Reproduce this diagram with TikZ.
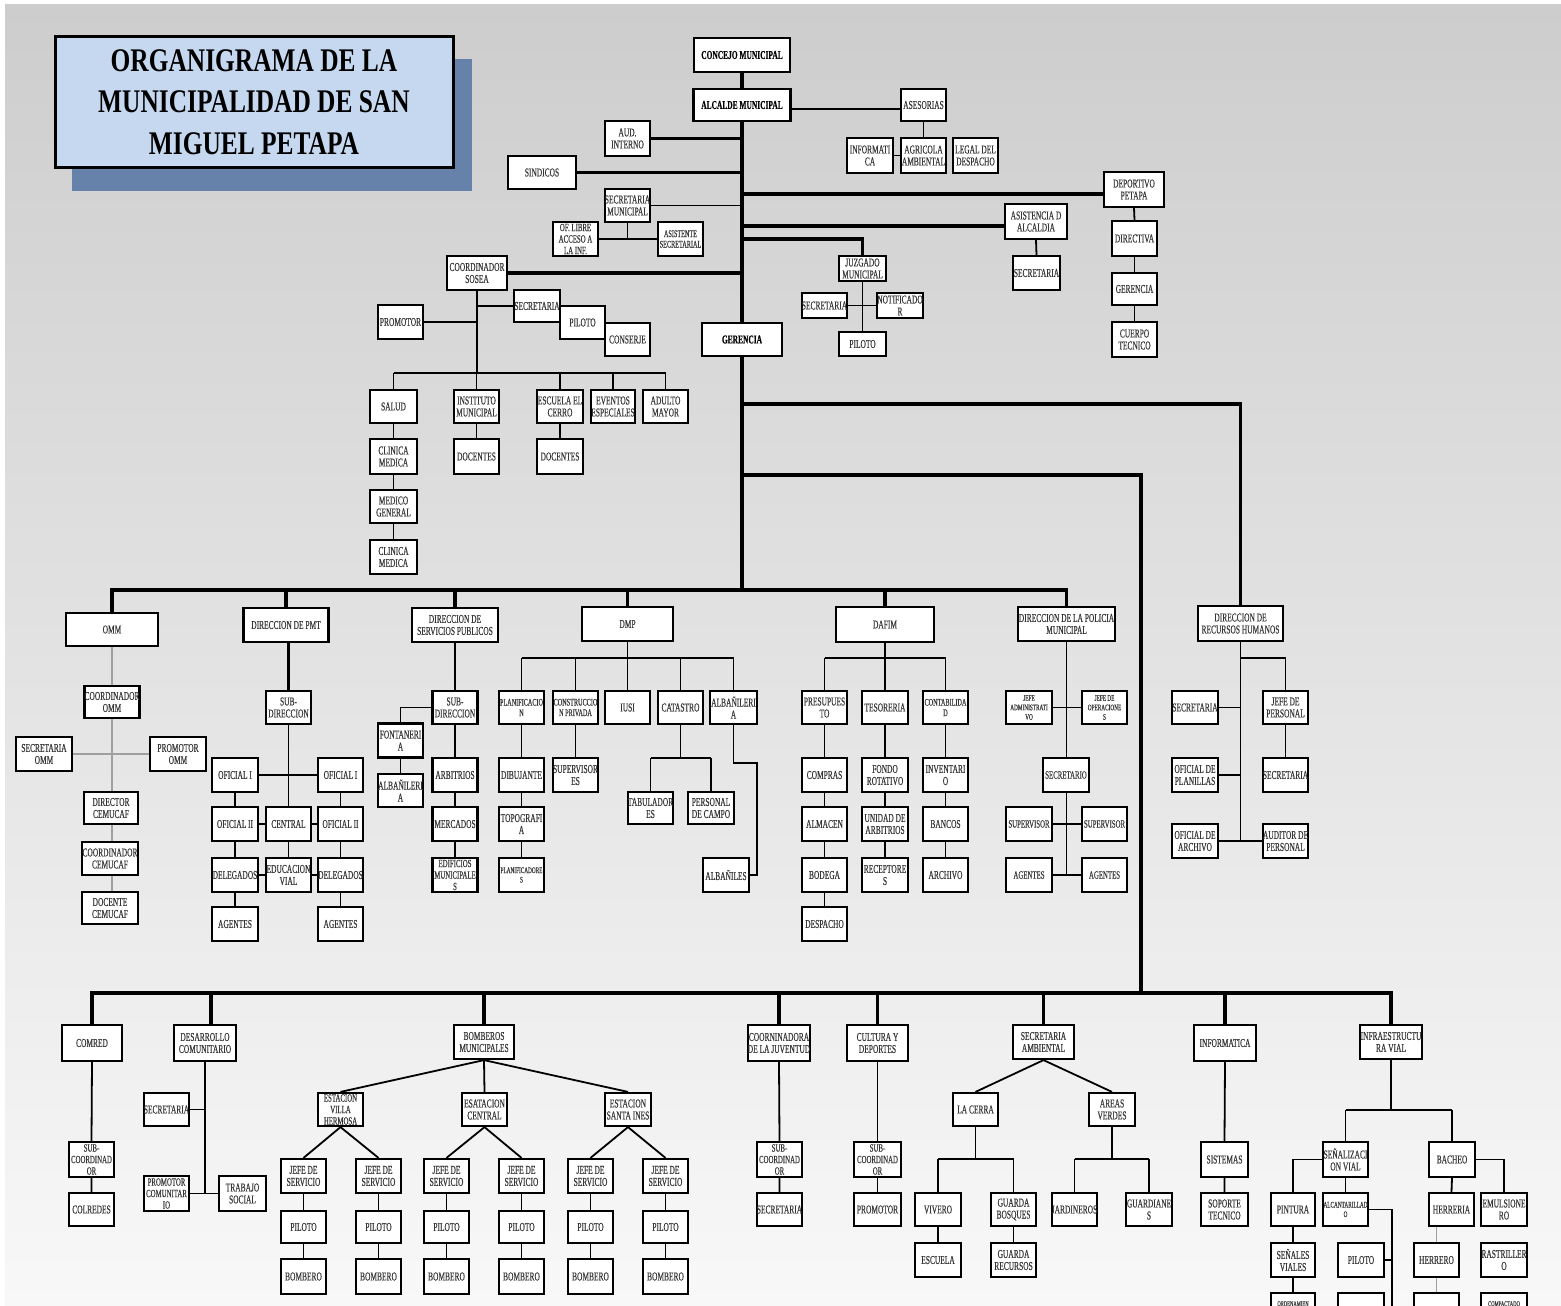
\documentclass[tikz,border=0pt]{standalone}
\usepackage{fontspec}
\setmainfont[FakeStretch=0.62,FakeBold=0.35]{Liberation Serif}
\newfontfamily\titlefont[FakeStretch=0.77]{Liberation Serif}
\usetikzlibrary{calc}
\definecolor{txt}{RGB}{55,55,55}
\definecolor{titlefill}{RGB}{197,216,240}
\definecolor{shadowc}{RGB}{103,130,170}
\definecolor{bgtop}{RGB}{205,205,205}
\definecolor{bgbot}{RGB}{248,248,248}
\pgfdeclarelayer{back}
\pgfdeclarelayer{lines}
\pgfsetlayers{back,lines,main}
\newcommand\fnA{\fontsize{12}{12}\selectfont}
\newcommand\fnB{\fontsize{10}{10.5}\selectfont}
\newcommand\fnC{\fontsize{8.5}{9.5}\selectfont}
\newcommand\fnD{\fontsize{11}{11.5}\selectfont}
\begin{document}
\begin{tikzpicture}[x=1pt,y=-1pt,
  bx/.style={draw=black, line width=2.2pt, fill=white, inner sep=0pt, align=center, text=txt, font=\fnA, minimum width=45pt, minimum height=33pt},
  bld/.style={font=\fnA\bfseries, text=black},
  W/.style={minimum width=#1},
  H/.style={minimum height=#1},
  tk/.style={line width=3.6pt, line cap=rect},
  tl/.style={line width=1.8pt},
  gl/.style={line width=1.3pt, draw=gray!75}]
\useasboundingbox (0,0) rectangle (1561,1306);
\begin{pgfonlayer}{back}
\fill[white] (0,0) rectangle (1561,1306);
\shade[top color=bgtop, bottom color=bgbot] (5,5) rectangle (1561,1306);
\end{pgfonlayer}

% title
\fill[shadowc] (72,59) rectangle (472,191);
\node[draw=black, line width=3pt, fill=titlefill, minimum width=398pt, minimum height=130pt, inner sep=0pt, align=center, font={\titlefont\bfseries\fontsize{33}{41.5}\selectfont}] (title) at (254,102) {ORGANIGRAMA DE LA\\MUNICIPALIDAD DE SAN\\MIGUEL PETAPA};

% top
\node[bx,bld,W=96pt,H=34pt] (concejo) at (742,55) {CONCEJO MUNICIPAL};
\node[bx,bld,W=97pt,H=32pt] (alcalde) at (742,105) {ALCALDE MUNICIPAL};
\node[bx,H=32pt] (asesorias) at (923.5,105) {ASESORIAS};
\node[bx,W=46pt,H=35pt] (informatica1) at (870,155.5) {INFORMATI\\CA};
\node[bx,H=35pt] (agricola) at (923.5,155.5) {AGRICOLA\\AMBIENTAL};
\node[bx,H=35pt] (legal) at (975.5,155.5) {LEGAL DEL\\DESPACHO};
\node[bx,H=35pt] (aud) at (627.5,138.5) {AUD.\\INTERNO};
\node[bx,W=68pt] (sindicos) at (542,172.5) {SINDICOS};
\node[bx] (secmun) at (627.5,205.5) {SECRETARIA\\MUNICIPAL};
\node[bx,H=34pt,font=\fnD] (oflibre) at (575.5,239) {OF. LIBRE\\ACCESO A\\LA INF.};
\node[bx,H=34pt,font=\fnB] (asistente) at (680.5,239) {ASISTENTE\\SECRETARIAL};
\node[bx,W=60pt,H=35pt] (deportivo) at (1134,189.5) {DEPORTIVO\\PETAPA};
\node[bx,W=62pt,H=35pt] (asistencia) at (1036,221.5) {ASISTENCIA D\\ALCALDIA};
\node[bx,W=47pt,H=34pt] (secasist) at (1036.5,273) {SECRETARIA};
\node[bx,H=35pt] (directiva) at (1134.5,238.5) {DIRECTIVA};
\node[bx,H=32pt] (gerdep) at (1134.5,289) {GERENCIA};
\node[bx,H=35pt] (cuerpo) at (1134.5,339.5) {CUERPO\\TECNICO};
\node[bx,W=47pt,H=25pt] (juzgado) at (862.5,268.5) {JUZGADO\\MUNICIPAL};
\node[bx,H=25pt] (secjuz) at (824.5,305.5) {SECRETARIA};
\node[bx,W=46pt,H=25pt] (notif) at (900,305.5) {NOTIFICADO\\R};
\node[bx,W=47pt,H=24pt] (pilotojuz) at (862.5,344) {PILOTO};
\node[bx,bld,W=80pt] (gerencia) at (742,339.5) {GERENCIA};
\node[bx,W=60pt,H=34pt] (sosea) at (477,273) {COORDINADOR\\SOSEA};
\node[bx,W=46pt,H=32pt] (secsosea) at (537,306) {SECRETARIA};
\node[bx] (pilotososea) at (582.5,322.5) {PILOTO};
\node[bx] (conserje) at (627.5,339.5) {CONSERJE};
\node[bx,H=34pt] (promotor) at (400.5,322) {PROMOTOR};
\node[bx,W=47pt] (salud) at (393.5,406.5) {SALUD};
\node[bx] (instituto) at (476.5,406.5) {INSTITUTO\\MUNICIPAL};
\node[bx,W=46pt] (escuela) at (560,406.5) {ESCUELA EL\\CERRO};
\node[bx,W=44pt] (eventos) at (613,406.5) {EVENTOS\\ESPECIALES};
\node[bx] (adulto) at (665.5,406.5) {ADULTO\\MAYOR};
\node[bx,W=47pt,H=35pt] (clinica1) at (393.5,456.5) {CLINICA\\MEDICA};
\node[bx,W=47pt] (medico) at (393.5,506.5) {MEDICO\\GENERAL};
\node[bx,W=47pt,H=34pt] (clinica2) at (393.5,557) {CLINICA\\MEDICA};
\node[bx,H=35pt] (docentes1) at (476.5,456.5) {DOCENTES};
\node[bx,W=46pt,H=35pt] (docentes2) at (560,456.5) {DOCENTES};

% OMM
\node[bx,W=92pt] (omm) at (112,629.5) {OMM};
\node[bx,W=55pt,H=32pt] (coordomm) at (112,702) {COORDINADOR\\OMM};
\node[bx,W=56pt,H=34pt] (secomm) at (44,754) {SECRETARIA\\OMM};
\node[bx,W=56pt,H=34pt] (promomm) at (178,754) {PROMOTOR\\OMM};
\node[bx,W=54pt,H=32pt] (dircem) at (111,808) {DIRECTOR\\CEMUCAF};
\node[bx,W=56pt] (coordcem) at (110,858.5) {COORDINADOR\\CEMUCAF};
\node[bx,W=56pt,H=32pt] (doccem) at (110,908) {DOCENTE\\CEMUCAF};

% PMT
\node[bx,W=85pt,H=34pt] (pmt) at (286,625) {DIRECCION DE PMT};
\node[bx] (subpmt) at (288.5,707.5) {SUB-\\DIRECCION};
\node[bx,W=46pt,H=34pt] (of1l) at (235,775) {OFICIAL I};
\node[bx,H=34pt] (of1r) at (340.5,775) {OFICIAL I};
\node[bx,W=46pt,H=34pt] (of2l) at (235,824) {OFICIAL II};
\node[bx,H=34pt] (central) at (288.5,824) {CENTRAL};
\node[bx,H=34pt] (of2r) at (340.5,824) {OFICIAL II};
\node[bx,W=46pt,H=34pt] (delel) at (235,875) {DELEGADOS};
\node[bx,H=34pt] (educ) at (288.5,875) {EDUCACION\\VIAL};
\node[bx,H=34pt] (deler) at (340.5,875) {DELEGADOS};
\node[bx,W=46pt,H=34pt] (agl) at (235,924) {AGENTES};
\node[bx,H=34pt] (agr) at (340.5,924) {AGENTES};

% Servicios publicos
\node[bx,W=86pt,H=34pt] (sp) at (455,625) {DIRECCION DE\\SERVICIOS PUBLICOS};
\node[bx] (subsp) at (455,707.5) {SUB-\\DIRECCION};
\node[bx,H=34pt] (fontan) at (400.5,740.5) {FONTANERI\\A};
\node[bx] (albsp) at (400.5,790.5) {ALBAÑILERI\\A};
\node[bx,H=34pt] (arb) at (455,775) {ARBITRIOS};
\node[bx,H=34pt] (merc) at (455,824) {MERCADOS};
\node[bx,H=34pt,font=\fnD] (edif) at (455,875) {EDIFICIOS\\MUNICIPALE\\S};

% DMP
\node[bx,W=91pt,H=34pt] (dmp) at (627.5,624) {DMP};
\node[bx,font=\fnB] (planif) at (521.5,707.5) {PLANIFICACIO\\N};
\node[bx,font=\fnB] (constr) at (575.5,707.5) {CONSTRUCCIO\\N PRIVADA};
\node[bx] (iusi) at (627.5,707.5) {IUSI};
\node[bx] (catastro) at (680.5,707.5) {CATASTRO};
\node[bx,W=47pt] (albdmp) at (733.5,707.5) {ALBAÑILERI\\A};
\node[bx,H=34pt] (dibuj) at (521.5,775) {DIBUJANTE};
\node[bx,H=34pt] (topo) at (521.5,824) {TOPOGRAFI\\A};
\node[bx,H=34pt,font=\fnC] (planifs) at (521.5,875) {PLANIFICADORE\\S};
\node[bx,H=34pt] (superv) at (575.5,775) {SUPERVISOR\\ES};
\node[bx,H=32pt] (tabul) at (650.5,808) {TABULADOR\\ES};
\node[bx,W=46pt,H=32pt] (personal) at (711,808) {PERSONAL\\DE CAMPO};
\node[bx,W=46pt,H=34pt] (albaniles) at (726,875) {ALBAÑILES};

% DAFIM
\node[bx,W=98pt,H=35pt] (dafim) at (885,624.5) {DAFIM};
\node[bx] (presu) at (824.5,707.5) {PRESUPUES\\TO};
\node[bx,W=46pt] (teso) at (885,707.5) {TESORERIA};
\node[bx,font=\fnB] (conta) at (945.5,707.5) {CONTABILIDA\\D};
\node[bx,H=34pt] (compras) at (824.5,775) {COMPRAS};
\node[bx,H=34pt] (almacen) at (824.5,824) {ALMACEN};
\node[bx,H=34pt] (bodega) at (824.5,875) {BODEGA};
\node[bx,H=34pt] (despacho) at (824.5,924) {DESPACHO};
\node[bx,W=46pt,H=34pt] (fondo) at (885,775) {FONDO\\ROTATIVO};
\node[bx,W=46pt,H=34pt] (unidad) at (885,824) {UNIDAD DE\\ARBITRIOS};
\node[bx,W=46pt,H=34pt] (recept) at (885,875) {RECEPTORE\\S};
\node[bx,H=34pt] (invent) at (945.5,775) {INVENTARI\\O};
\node[bx,H=34pt] (bancos) at (945.5,824) {BANCOS};
\node[bx,H=34pt] (archivo) at (945.5,875) {ARCHIVO};

% Policia
\node[bx,W=97pt,H=34pt] (policia) at (1066.5,624) {DIRECCION DE LA POLICIA\\MUNICIPAL};
\node[bx,W=46pt,font=\fnC] (jefeadm) at (1029,707.5) {JEFE\\ADMINISTRATI\\VO};
\node[bx,font=\fnC] (jefeop) at (1104.5,707.5) {JEFE DE\\OPERACIONE\\S};
\node[bx,W=46pt,H=34pt,font=\fnD] (secretario) at (1066,775) {SECRETARIO};
\node[bx,W=46pt,H=34pt,font=\fnD] (supl) at (1029,824) {SUPERVISOR};
\node[bx,H=34pt,font=\fnD] (supr) at (1104.5,824) {SUPERVISOR};
\node[bx,W=46pt,H=34pt,font=\fnD] (agpl) at (1029,875) {AGENTES};
\node[bx,H=34pt,font=\fnD] (agpr) at (1104.5,875) {AGENTES};

% RRHH
\node[bx,W=85pt,H=35pt] (rrhh) at (1240.5,623.5) {DIRECCION DE\\RECURSOS HUMANOS};
\node[bx,W=46pt] (secrh) at (1195,707.5) {SECRETARIA};
\node[bx] (jefep) at (1285.5,707.5) {JEFE DE\\PERSONAL};
\node[bx,W=46pt,H=34pt] (ofplan) at (1195,775) {OFICIAL DE\\PLANILLAS};
\node[bx,H=34pt] (secjefe) at (1285.5,775) {SECRETARIA};
\node[bx,W=46pt,H=34pt] (ofarch) at (1195,841) {OFICIAL DE\\ARCHIVO};
\node[bx,H=34pt] (auditor) at (1285.5,841) {AUDITOR DE\\PERSONAL};

% bottom row
\node[bx,W=60pt,H=36pt] (comred) at (92,1043) {COMRED};
\node[bx,W=62pt,H=36pt] (desarrollo) at (205,1043) {DESARROLLO\\COMUNITARIO};
\node[bx] (secdes) at (166.5,1109.5) {SECRETARIA};
\node[bx,H=35pt,font=\fnD] (promcom) at (166.5,1193.5) {PROMOTOR\\COMUNITAR\\IO};
\node[bx,W=47pt,H=35pt] (trabajo) at (242.5,1193.5) {TRABAJO\\SOCIAL};
\node[bx,H=35pt,font=\fnD] (subcomred) at (91.5,1159.5) {SUB-\\COORDINAD\\OR};
\node[bx] (colredes) at (91.5,1209.5) {COLREDES};
\node[bx,W=60pt,H=34pt] (bomberos) at (484,1042) {BOMBEROS\\MUNICIPALES};
\node[bx,font=\fnD] (villa) at (340.5,1109.5) {ESTACION\\VILLA\\HERMOSA};
\node[bx] (centralb) at (484.5,1109.5) {ESATACION\\CENTRAL};
\node[bx,W=46pt] (santa) at (628,1109.5) {ESTACION\\SANTA INES};
\foreach \i/\x in {1/303.5,2/378.5,3/446.5,4/521.5,5/590.5,6/665.5} {
  \node[bx,H=34pt] (j\i) at (\x,1176) {JEFE DE\\SERVICIO};
  \node[bx,H=32pt] (p\i) at (\x,1227) {PILOTO};
  \node[bx,H=35pt] (b\i) at (\x,1276.5) {BOMBERO};
}
\node[bx,W=60pt,H=36pt] (juventud) at (779,1043) {COORNINADORA\\DE LA JUVENTUD};
\node[bx,H=35pt,font=\fnD] (subjuv) at (779.5,1159.5) {SUB-\\COORDINAD\\OR};
\node[bx] (secjuv) at (779.5,1209.5) {SECRETARIA};
\node[bx,W=61pt,H=36pt] (cultura) at (877.5,1043) {CULTURA Y\\DEPORTES};
\node[bx,W=47pt,H=35pt,font=\fnD] (subcul) at (877.5,1159.5) {SUB-\\COORDINAD\\OR};
\node[bx,W=47pt] (promcul) at (877.5,1209.5) {PROMOTOR};
\node[bx,W=61pt,H=34pt] (secamb) at (1043.5,1042) {SECRETARIA\\AMBIENTAL};
\node[bx] (lacerra) at (975.5,1109.5) {LA CERRA};
\node[bx,W=46pt] (areas) at (1112,1109.5) {AREAS\\VERDES};
\node[bx,W=46pt] (vivero) at (938,1209.5) {VIVERO};
\node[bx,W=46pt,H=34pt] (escuelab) at (938,1260) {ESCUELA};
\node[bx] (guardab) at (1013.5,1209.5) {GUARDA\\BOSQUES};
\node[bx,H=34pt] (guardar) at (1013.5,1260) {GUARDA\\RECURSOS};
\node[bx] (jardineros) at (1074.5,1209.5) {JARDINEROS};
\node[bx,W=46pt] (guardianes) at (1149,1209.5) {GUARDIANE\\S};
\node[bx,W=62pt,H=36pt] (informatica2) at (1225,1043) {INFORMATICA};
\node[bx,W=47pt,H=35pt] (sistemas) at (1224.5,1159.5) {SISTEMAS};
\node[bx,W=47pt] (soporte) at (1224.5,1209.5) {SOPORTE\\TECNICO};
\node[bx,W=62pt,H=34pt] (infra) at (1391,1042) {INFRAESTRUCTU\\RA VIAL};
\node[bx,H=35pt] (senal) at (1345.5,1159.5) {SEÑALIZACI\\ON VIAL};
\node[bx,W=46pt,H=35pt] (bacheo) at (1452,1159.5) {BACHEO};
\node[bx,W=44pt] (pintura) at (1293,1209.5) {PINTURA};
\node[bx,font=\fnC] (alcant) at (1345.5,1209.5) {ALCANTARILLAD\\O};
\node[bx] (herreria) at (1451.5,1209.5) {HERRERIA};
\node[bx,W=46pt] (emulsion) at (1504,1209.5) {EMULSIONE\\RO};
\node[bx,W=44pt,H=34pt] (senales) at (1293,1260) {SEÑALES\\VIALES};
\node[bx,W=46pt,H=34pt] (pilotoi) at (1361,1260) {PILOTO};
\node[bx,H=34pt] (herrero) at (1436.5,1260) {HERRERO};
\node[bx,W=46pt,H=34pt] (rastr) at (1504,1260) {RASTRILLER\\O};
\node[bx,W=44pt,H=34pt,font=\fontsize{7.5}{8}\selectfont] (ordena) at (1293,1310) {\raisebox{12.5pt}{ORDENAMIEN}};
\node[bx,W=46pt,H=34pt] (pilotob) at (1361,1310) {};
\node[bx,H=34pt] (herrb) at (1436.5,1310) {};
\node[bx,W=46pt,H=34pt,font=\fontsize{7.5}{8}\selectfont] (compact) at (1504,1310) {\raisebox{12.5pt}{COMPACTADO}};

\begin{pgfonlayer}{lines}
% trunk and top
\draw[tk] (concejo.south) -- (alcalde.north);
\draw[tk] (alcalde.south) -- (gerencia.north);
\coordinate (hub) at (742,590);
\draw[tk] (gerencia.south) -- (hub);
\draw[tk] (aud.east) -- (aud.east -| alcalde.south);
\draw[tk] (sindicos.east) -- (sindicos.east -| alcalde.south);
\draw[tl] (secmun.east) -- (secmun.east -| alcalde.south);
\draw[tk] (sosea.east) -- (sosea.east -| alcalde.south);
\coordinate (dp) at (742,194);
\draw[tk] (dp) -- (dp -| deportivo.west);
\coordinate (as) at (742,226);
\draw[tk] (as) -- (as -| asistencia.west);
\coordinate (jz) at (742,239);
\draw[tk] (jz) -| (juzgado.north);
\draw[tl] ([yshift=-4pt]alcalde.east) -- ([yshift=-4pt]asesorias.west);
\draw[tl] (asesorias.south) -- (agricola.north);
\draw[tl] (informatica1.east) -- (agricola.west);
\draw[tl] (secmun.south) -- (secmun.south |- oflibre.east);
\draw[tl] (oflibre.east) -- (asistente.west);
\draw[tl] (asistencia.south) -- (secasist.north);
\draw[tl] (deportivo.south) -- (directiva.north);
\draw[tl] (directiva.south) -- (gerdep.north);
\draw[tl] (gerdep.south) -- (cuerpo.north);
\draw[tl] (juzgado.south) -- (pilotojuz.north);
\draw[tl] (secjuz.east) -- (notif.west);
% sosea
\coordinate (s1) at (477,373);
\draw[tl] (sosea.south) -- (s1);
\draw[tl] (promotor.east) -- (promotor.east -| sosea.south);
\draw[tl] (secsosea.west) -- (secsosea.west -| sosea.south);
\draw[tl] (salud.north |- s1) -- (adulto.north |- s1);
\foreach \n in {salud,instituto,escuela,eventos,adulto} \draw[tl] (\n.north) -- (\n.north |- s1);
\draw[tl] (salud.south) -- (clinica1.north) (clinica1.south) -- (medico.north) (medico.south) -- (clinica2.north)
  (instituto.south) -- (docentes1.north) (escuela.south) -- (docentes2.north);
% main branches
\coordinate (r1) at (742,404);
\coordinate (r2) at (742,475);
\coordinate (b0) at (1141,993);
\draw[tk] (r1) -| (rrhh.north);
\draw[tk] (r2) -| (b0);
\draw[tk] (omm.north |- hub) -- (policia.north |- hub);
\foreach \n in {omm,pmt,sp,dmp,dafim,policia} \draw[tk] (\n.north) -- (\n.north |- hub);
% omm
\draw[gl] (omm.south) -- (omm.south |- doccem.north);
\draw[gl] (secomm.east) -- (promomm.west);
% pmt
\draw[tk] (pmt.south -| subpmt.north) -- (subpmt.north);
\draw[tl] (subpmt.south) -- (central.north);
\draw[tl] (of1l.east) -- (of1r.west);
\draw[tl] (of1l.south) -- (of2l.north) (of1r.south) -- (of2r.north);
\draw[tl] (of2l.east) -- (central.west) (central.east) -- (of2r.west);
\draw[tl] (of2l.south) -- (delel.north) (central.south) -- (educ.north) (of2r.south) -- (deler.north);
\draw[tl] (delel.east) -- (educ.west) (educ.east) -- (deler.west);
\draw[tl] (delel.south) -- (agl.north) (deler.south) -- (agr.north);
% servicios publicos
\draw[tl] (sp.south) -- (subsp.north);
\draw[tl] (subsp.west) -| (fontan.north);
\draw[tl] (fontan.south) -- (albsp.north);
\draw[tl] (subsp.south) -- (arb.north) (arb.south) -- (merc.north) (merc.south) -- (edif.north);
% dmp
\coordinate (d1) at (627.5,658);
\draw[tl] (dmp.south) -- (d1);
\draw[tl] (planif.north |- d1) -- (albdmp.north |- d1);
\foreach \n in {planif,constr,iusi,catastro,albdmp} \draw[tl] (\n.north) -- (\n.north |- d1);
\draw[tl] (planif.south) -- (dibuj.north) (dibuj.south) -- (topo.north) (topo.south) -- (planifs.north);
\draw[tl] (constr.south) -- (superv.north);
\coordinate (c1) at (680.5,758);
\draw[tl] (catastro.south) -- (c1);
\draw[tl] (tabul.north |- c1) -- (personal.north |- c1);
\draw[tl] (tabul.north) -- (tabul.north |- c1) (personal.north) -- (personal.north |- c1);
\coordinate (a1) at (757,763);
\draw[tl] (albdmp.south) |- (a1) |- (albaniles.east);
% dafim
\coordinate (f1) at (885,658);
\draw[tl] (dafim.south) -- (f1);
\draw[tl] (presu.north |- f1) -- (conta.north |- f1);
\foreach \n in {presu,teso,conta} \draw[tl] (\n.north) -- (\n.north |- f1);
\draw[tl] (presu.south) -- (compras.north) (compras.south) -- (almacen.north) (almacen.south) -- (bodega.north) (bodega.south) -- (despacho.north);
\draw[tl] (teso.south) -- (fondo.north) (fondo.south) -- (unidad.north) (unidad.south) -- (recept.north);
\draw[tl] (conta.south) -- (invent.north) (invent.south) -- (bancos.north) (bancos.south) -- (archivo.north);
% policia
\draw[tl] (policia.south) -- (policia.south |- agpl.east);
\draw[tl] (jefeadm.east) -- (jefeop.west);
\draw[tl] (supl.east) -- (supr.west);
\draw[tl] (agpl.east) -- (agpr.west);
% rrhh
\coordinate (h2) at (1240.5,658);
\draw[tl] (rrhh.south) -- (rrhh.south |- ofarch.east);
\draw[tl] (h2) -| (jefep.north);
\draw[tl] (secrh.east) -- (secrh.east -| rrhh.south);
\draw[tl] (ofplan.east) -- (ofplan.east -| rrhh.south);
\draw[tl] (ofarch.east) -- (auditor.west);
\draw[tl] (jefep.south) -- (secjefe.north);
% bottom branch
\draw[tk] (comred.north |- b0) -- (infra.north |- b0);
\foreach \n in {comred,bomberos,juventud,cultura,secamb,informatica2,infra} \draw[tk] (\n.north) -- (\n.north |- b0);
\coordinate (dz) at (211,993);
\draw[tk] (dz) -- (dz |- desarrollo.north);
\draw[tl] (comred.south) -- (subcomred.north) (subcomred.south) -- (colredes.north);
\draw[tl] (desarrollo.south) -- (desarrollo.south |- promcom.east);
\draw[tl] (secdes.east) -- (secdes.east -| desarrollo.south);
\draw[tl] (promcom.east) -- (trabajo.west);
\draw[tl] (bomberos.south) -- (villa.north) (bomberos.south) -- (centralb.north) (bomberos.south) -- (santa.north);
\draw[tl] (villa.south) -- (j1.north) (villa.south) -- (j2.north) (centralb.south) -- (j3.north)
  (centralb.south) -- (j4.north) (santa.south) -- (j5.north) (santa.south) -- (j6.north);
\foreach \i in {1,...,6} \draw[tl] (j\i.south) -- (p\i.north) (p\i.south) -- (b\i.north);
\draw[tl] (juventud.south) -- (subjuv.north) (subjuv.south) -- (secjuv.north);
\draw[tl] (cultura.south) -- (subcul.north) (subcul.south) -- (promcul.north);
\draw[tl] (secamb.south) -- (lacerra.north) (secamb.south) -- (areas.north);
\coordinate (lc) at (975.5,1159);
\draw[tl] (lacerra.south) -- (lc);
\draw[tl] (vivero.north |- lc) -- (guardab.north |- lc);
\draw[tl] (vivero.north) -- (vivero.north |- lc) (guardab.north) -- (guardab.north |- lc);
\draw[tl] (vivero.south) -- (escuelab.north) (guardab.south) -- (guardar.north);
\coordinate (av) at (1112,1159);
\draw[tl] (areas.south) -- (av);
\draw[tl] (jardineros.north |- av) -- (guardianes.north |- av);
\draw[tl] (jardineros.north) -- (jardineros.north |- av) (guardianes.north) -- (guardianes.north |- av);
\draw[tl] (informatica2.south) -- (sistemas.north) (sistemas.south) -- (soporte.north);
\coordinate (iv) at (1391,1110);
\draw[tl] (infra.south) -- (iv);
\draw[tl] (senal.north |- iv) -- (bacheo.north |- iv);
\draw[tl] (senal.north) -- (senal.north |- iv) (bacheo.north) -- (bacheo.north |- iv);
\draw[tl] (senal.west) -| (pintura.north);
\draw[tl] (senal.south) -- (alcant.north);
\draw[tl] (pintura.south) -- (senales.north) (senales.south) -- (ordena.north);
\coordinate (ab) at (1392,1320);
\draw[tl] (alcant.east) -| (ab);
\draw[tl] (pilotoi.east) -- (pilotoi.east -| ab);
\draw[tl] (bacheo.south) -- (herreria.north);
\draw[tl] (bacheo.east) -| (emulsion.north);
\draw[gl] (herreria.south -| herrero.north) -- (herrero.north) (herrero.south) -- (herrb.north);
\end{pgfonlayer}
\end{tikzpicture}
\end{document}
